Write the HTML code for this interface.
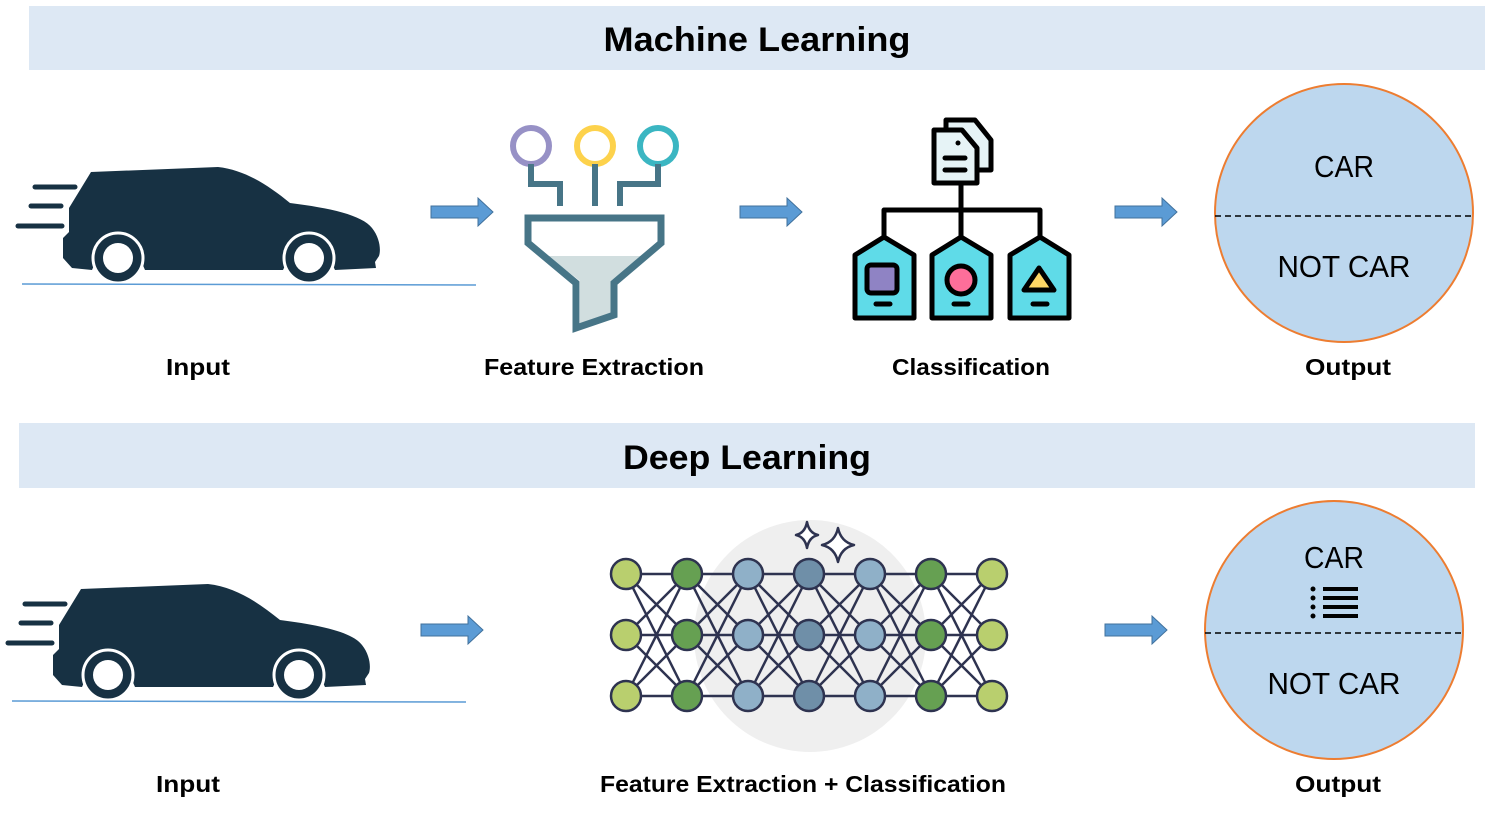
<!DOCTYPE html>
<html><head><meta charset="utf-8"><style>
html,body{margin:0;padding:0;background:#fff;}
svg{display:block;}
text{font-family:"Liberation Sans",sans-serif;}
</style></head><body>
<svg width="1485" height="819" viewBox="0 0 1485 819" xmlns="http://www.w3.org/2000/svg">
<defs>
<g id="car">
  <path d="M91,172 L218,167 C245,170 268,185 290,203 C330,208 362,215 372,228 C380,238 381,250 379,256 L375,262 L376,268 L335,270 A28,28 0 0 0 283,270 L145,270 A28,28 0 0 0 92,270 L72,268 L63,258 L63,238 L69,232 L69,208 Z" fill="#173143"/>
  <circle cx="118" cy="258" r="25" fill="#173143" stroke="#fff" stroke-width="3"/>
  <circle cx="118" cy="258" r="15" fill="#fff"/>
  <circle cx="309" cy="258" r="25" fill="#173143" stroke="#fff" stroke-width="3"/>
  <circle cx="309" cy="258" r="15" fill="#fff"/>
  <g stroke="#173143" stroke-width="5" stroke-linecap="round">
    <line x1="35" y1="187" x2="75" y2="187"/>
    <line x1="31" y1="206" x2="61" y2="206"/>
    <line x1="18" y1="226" x2="62" y2="226"/>
  </g>
  <line x1="22" y1="284" x2="476" y2="285" stroke="#5b9bd5" stroke-width="1.5"/>
</g>
<path id="arr" d="M0,-6 L47,-6 L47,-14 L62,0 L47,14 L47,6 L0,6 Z" fill="#5b9bd5" stroke="#41719c" stroke-width="1"/>
<g id="gap" stroke="#2e3350" stroke-width="2.5">
  <line x1="0" y1="574" x2="61" y2="574"/><line x1="0" y1="574" x2="61" y2="635"/><line x1="0" y1="574" x2="61" y2="696"/>
  <line x1="0" y1="635" x2="61" y2="574"/><line x1="0" y1="635" x2="61" y2="635"/><line x1="0" y1="635" x2="61" y2="696"/>
  <line x1="0" y1="696" x2="61" y2="574"/><line x1="0" y1="696" x2="61" y2="635"/><line x1="0" y1="696" x2="61" y2="696"/>
</g>
</defs>

<!-- headers -->
<rect x="29" y="6" width="1456" height="64" fill="#dde8f4"/>
<text x="757" y="51" font-size="34" font-weight="bold" text-anchor="middle" textLength="307" lengthAdjust="spacingAndGlyphs">Machine Learning</text>
<rect x="19" y="423" width="1456" height="65" fill="#dde8f4"/>
<text x="747" y="469" font-size="34" font-weight="bold" text-anchor="middle" textLength="248" lengthAdjust="spacingAndGlyphs">Deep Learning</text>

<!-- cars -->
<use href="#car"/>
<use href="#car" transform="translate(-10,417)"/>

<!-- arrows -->
<use href="#arr" transform="translate(431,212)"/>
<use href="#arr" transform="translate(740,212)"/>
<use href="#arr" transform="translate(1115,212)"/>
<use href="#arr" transform="translate(421,630)"/>
<use href="#arr" transform="translate(1105,630)"/>

<!-- funnel -->
<g fill="none" stroke-width="6">
  <circle cx="531" cy="146" r="18" stroke="#9791c6"/>
  <circle cx="595" cy="146" r="18" stroke="#fdd24c"/>
  <circle cx="658" cy="146" r="18" stroke="#3bb6c2"/>
</g>
<g fill="none" stroke="#477587" stroke-width="6">
  <polyline points="531,164 531,184 560,184 560,206"/>
  <line x1="595" y1="164" x2="595" y2="206"/>
  <polyline points="658,164 658,184 620,184 620,206"/>
</g>
<polygon points="548,256 641,256 614,281 614,313 580,325 580,281" fill="#d1dedf"/>
<polygon points="528,218 661,218 661,243 614,283 614,315 576,328 576,283 528,243" fill="none" stroke="#477587" stroke-width="7" stroke-linejoin="miter"/>

<!-- classification -->
<g stroke="#000" stroke-width="5" stroke-linejoin="round" stroke-linecap="round">
  <path d="M946,120 L975,120 L991,140 L991,170 L946,170 Z" fill="#e6f3f6"/>
  <path d="M934,130 L962,130 L977,148 L977,183 L934,183 Z" fill="#e6f3f6"/>
  <line x1="945" y1="158" x2="965" y2="158"/><line x1="945" y1="170" x2="965" y2="170"/>
  <line x1="961" y1="185" x2="961" y2="238"/>
  <polyline points="884,238 884,210 1040,210 1040,238" fill="none"/>
  <path d="M884,237 L914,255 L914,318 L855,318 L855,255 Z" fill="#5fdbe8"/>
  <path d="M961,237 L991,255 L991,318 L932,318 L932,255 Z" fill="#5fdbe8"/>
  <path d="M1040,237 L1069,255 L1069,318 L1010,318 L1010,255 Z" fill="#5fdbe8"/>
  <rect x="867" y="265" width="30" height="28" rx="4" fill="#8f83c4"/>
  <circle cx="961" cy="280" r="14" fill="#fd6e9a"/>
  <path d="M1039,268 L1054,290 L1024,290 Z" fill="#fed766"/>
  <line x1="876" y1="304" x2="890" y2="304"/><line x1="954" y1="304" x2="968" y2="304"/><line x1="1033" y1="304" x2="1047" y2="304"/>
</g>
<circle cx="958" cy="143" r="2.5" fill="#000"/>

<!-- neural net -->
<circle cx="810" cy="636" r="116" fill="#efefef"/>
<g fill="#fff" stroke="#2e3350" stroke-width="2.5" stroke-linejoin="round">
  <path d="M807,522 Q809,533 818,535 Q809,537 807,548 Q805,537 796,535 Q805,533 807,522 Z"/>
  <path d="M838,528 Q841,542 854,545 Q841,548 838,562 Q835,548 822,545 Q835,542 838,528 Z"/>
</g>
<use href="#gap" transform="translate(626,0)"/>
<use href="#gap" transform="translate(687,0)"/>
<use href="#gap" transform="translate(748,0)"/>
<use href="#gap" transform="translate(809,0)"/>
<use href="#gap" transform="translate(870,0)"/>
<use href="#gap" transform="translate(931,0)"/>
<g stroke="#2e3350" stroke-width="2.5">
  <g fill="#b9cf6e"><circle cx="626" cy="574" r="15"/><circle cx="626" cy="635" r="15"/><circle cx="626" cy="696" r="15"/>
  <circle cx="992" cy="574" r="15"/><circle cx="992" cy="635" r="15"/><circle cx="992" cy="696" r="15"/></g>
  <g fill="#66a052"><circle cx="687" cy="574" r="15"/><circle cx="687" cy="635" r="15"/><circle cx="687" cy="696" r="15"/>
  <circle cx="931" cy="574" r="15"/><circle cx="931" cy="635" r="15"/><circle cx="931" cy="696" r="15"/></g>
  <g fill="#8fb0c8"><circle cx="748" cy="574" r="15"/><circle cx="748" cy="635" r="15"/><circle cx="748" cy="696" r="15"/>
  <circle cx="870" cy="574" r="15"/><circle cx="870" cy="635" r="15"/><circle cx="870" cy="696" r="15"/></g>
  <g fill="#6f8fa8"><circle cx="809" cy="574" r="15"/><circle cx="809" cy="635" r="15"/><circle cx="809" cy="696" r="15"/></g>
</g>

<!-- output circles -->
<circle cx="1344" cy="213" r="129" fill="#bdd7ee" stroke="#ed7d31" stroke-width="2"/>
<line x1="1215" y1="216" x2="1473" y2="216" stroke="#000" stroke-width="1.5" stroke-dasharray="6,4"/>
<text x="1344" y="177" font-size="31" text-anchor="middle" textLength="60" lengthAdjust="spacingAndGlyphs">CAR</text>
<text x="1344" y="277" font-size="31" text-anchor="middle" textLength="133" lengthAdjust="spacingAndGlyphs">NOT CAR</text>

<circle cx="1334" cy="630" r="129" fill="#bdd7ee" stroke="#ed7d31" stroke-width="2"/>
<line x1="1205" y1="633" x2="1463" y2="633" stroke="#000" stroke-width="1.5" stroke-dasharray="6,4"/>
<text x="1334" y="568" font-size="31" text-anchor="middle" textLength="60" lengthAdjust="spacingAndGlyphs">CAR</text>
<text x="1334" y="694" font-size="31" text-anchor="middle" textLength="133" lengthAdjust="spacingAndGlyphs">NOT CAR</text>
<g fill="#000">
  <circle cx="1313" cy="589" r="2.5"/><circle cx="1313" cy="598" r="2.5"/><circle cx="1313" cy="607" r="2.5"/><circle cx="1313" cy="616" r="2.5"/>
  <rect x="1323" y="587" width="35" height="4"/><rect x="1323" y="596" width="35" height="4"/><rect x="1323" y="605" width="35" height="4"/><rect x="1323" y="614" width="35" height="4"/>
</g>

<!-- labels -->
<g font-size="23" font-weight="bold" text-anchor="middle">
  <text x="198" y="375" textLength="64" lengthAdjust="spacingAndGlyphs">Input</text>
  <text x="594" y="375" textLength="220" lengthAdjust="spacingAndGlyphs">Feature Extraction</text>
  <text x="971" y="375" textLength="158" lengthAdjust="spacingAndGlyphs">Classification</text>
  <text x="1348" y="375" textLength="86" lengthAdjust="spacingAndGlyphs">Output</text>
  <text x="188" y="792" textLength="64" lengthAdjust="spacingAndGlyphs">Input</text>
  <text x="803" y="792" textLength="406" lengthAdjust="spacingAndGlyphs">Feature Extraction + Classification</text>
  <text x="1338" y="792" textLength="86" lengthAdjust="spacingAndGlyphs">Output</text>
</g>
</svg>
</body></html>
